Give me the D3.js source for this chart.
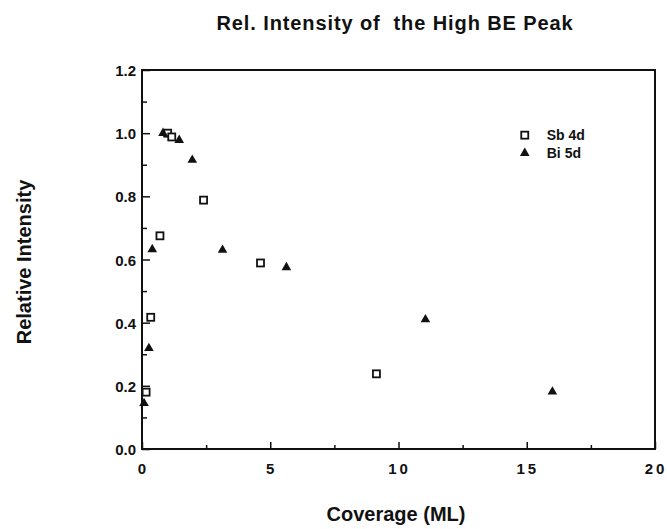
<!DOCTYPE html>
<html>
<head>
<meta charset="utf-8">
<script src="https://cdn.jsdelivr.net/npm/d3@7"></script>
<style>
  body { margin: 0; background: #fff; }
  text { font-family: 'Liberation Sans', Arial, sans-serif; font-weight: bold; fill: #111; }
</style>
</head>
<body>
<div id="chart"></div>
<script>
// Sb 4d (open squares)
const sbX = [0.16, 0.34, 0.70, 1.0, 1.16, 2.4, 4.62, 9.14]
const sbY = [0.18, 0.417, 0.675, 1.0, 0.988, 0.788, 0.589, 0.238]
// Bi 5d (filled triangles)
const biX = [0.08, 0.27, 0.40, 0.82, 1.45, 1.96, 3.14, 5.63, 11.05, 16.0]
const biY = [0.145, 0.319, 0.632, 1.0, 0.978, 0.915, 0.63, 0.575, 0.41, 0.181]

const xTicks = [0, 5, 10, 15, 20]
const yTicks = [0.0, 0.2, 0.4, 0.6, 0.8, 1.0, 1.2]
const seriesNames = ['Sb 4d', 'Bi 5d']

const w = 667, h = 529
const margin = { top: 70, left: 142, right: 12, bottom: 80 }
const iw = w - margin.left - margin.right   // 513
const ih = h - margin.top - margin.bottom   // 379

const svg = d3.select('#chart').append('svg').attr('width', w).attr('height', h)
const g = svg.append('g').attr('transform', `translate(${margin.left}, ${margin.top})`)

const x = d3.scaleLinear().domain([0, 20]).range([0, iw])
const y = d3.scaleLinear().domain([0, 1.2]).range([ih, 0])

// frame
g.append('rect').attr('width', iw).attr('height', ih)
  .attr('fill', 'none').attr('stroke', '#111').attr('stroke-width', 2)

// ticks (inward, minor in between)
const xAxis = d3.axisBottom(x).tickValues(d3.range(0, 20.01, 2.5)).tickSize(-5).tickFormat('')
g.append('g').attr('transform', `translate(0, ${ih})`).call(xAxis)
  .call(s => s.select('.domain').remove())
  .call(s => s.selectAll('line').attr('stroke', '#111').attr('stroke-width', 1.5)
    .attr('y2', d => d % 5 === 0 ? -7 : -4))
const yAxis = d3.axisLeft(y).tickValues(d3.range(0, 1.21, 0.1)).tickSize(-5).tickFormat('')
g.append('g').call(yAxis)
  .call(s => s.select('.domain').remove())
  .call(s => s.selectAll('line').attr('stroke', '#111').attr('stroke-width', 1.5)
    .attr('x2', (d, i) => i % 2 === 0 ? 8 : 5))

// tick labels
g.selectAll('.xlab').data(xTicks).enter().append('text').classed('xlab', true)
  .attr('x', d => x(d)).attr('y', ih + 25).attr('text-anchor', 'middle')
  .attr('font-size', '15px').style('letter-spacing', d => d >= 10 ? '3px' : '0px')
  .attr('dx', d => d >= 10 ? 1 : 0)
  .text(d => d)
g.selectAll('.ylab').data(yTicks).enter().append('text').classed('ylab', true)
  .attr('x', -6).attr('y', d => y(d) + 6).attr('text-anchor', 'end')
  .attr('font-size', '15px')
  .text(d => d.toFixed(1))

// points
const sq = 7
g.selectAll('.sb').data(sbX).enter().append('rect').classed('sb', true)
  .attr('x', (d, i) => x(d) - sq / 2).attr('y', (d, i) => y(sbY[i]) - sq / 2)
  .attr('width', sq).attr('height', sq)
  .attr('fill', '#fff').attr('stroke', '#111').attr('stroke-width', 1.8)
const tri = d3.symbol().type(d3.symbolTriangle).size(40)
g.selectAll('.bi').data(biX).enter().append('path').classed('bi', true)
  .attr('d', tri).attr('fill', '#111')
  .attr('transform', (d, i) => `translate(${x(d)}, ${y(biY[i])})`)

// legend
const leg = g.append('g').attr('transform', `translate(${x(15.0)}, ${y(1.0)})`)
leg.append('rect').attr('x', -2 - sq / 2).attr('y', 2 - sq / 2).attr('width', sq).attr('height', sq)
  .attr('fill', '#fff').attr('stroke', '#111').attr('stroke-width', 1.8)
leg.append('path').attr('d', tri).attr('fill', '#111').attr('transform', 'translate(-2, 20)')
leg.selectAll('.legtext').data(seriesNames).enter().append('text').classed('legtext', true)
  .attr('x', 20).attr('y', (d, i) => 7 + i * 18).attr('font-size', '14px').text(d => d)

// titles
svg.append('text').attr('x', 395).attr('y', 30).attr('text-anchor', 'middle')
  .attr('font-size', '20px').style('letter-spacing', '0.9px').attr('xml:space', 'preserve')
  .text('Rel. Intensity of  the High BE Peak')
svg.append('text').attr('transform', 'translate(31, 262) rotate(-90)')
  .attr('text-anchor', 'middle').attr('font-size', '20px').text('Relative Intensity')
svg.append('text').attr('x', 396).attr('y', 521).attr('text-anchor', 'middle')
  .attr('font-size', '20px').text('Coverage (ML)')
</script>
</body>
</html>
